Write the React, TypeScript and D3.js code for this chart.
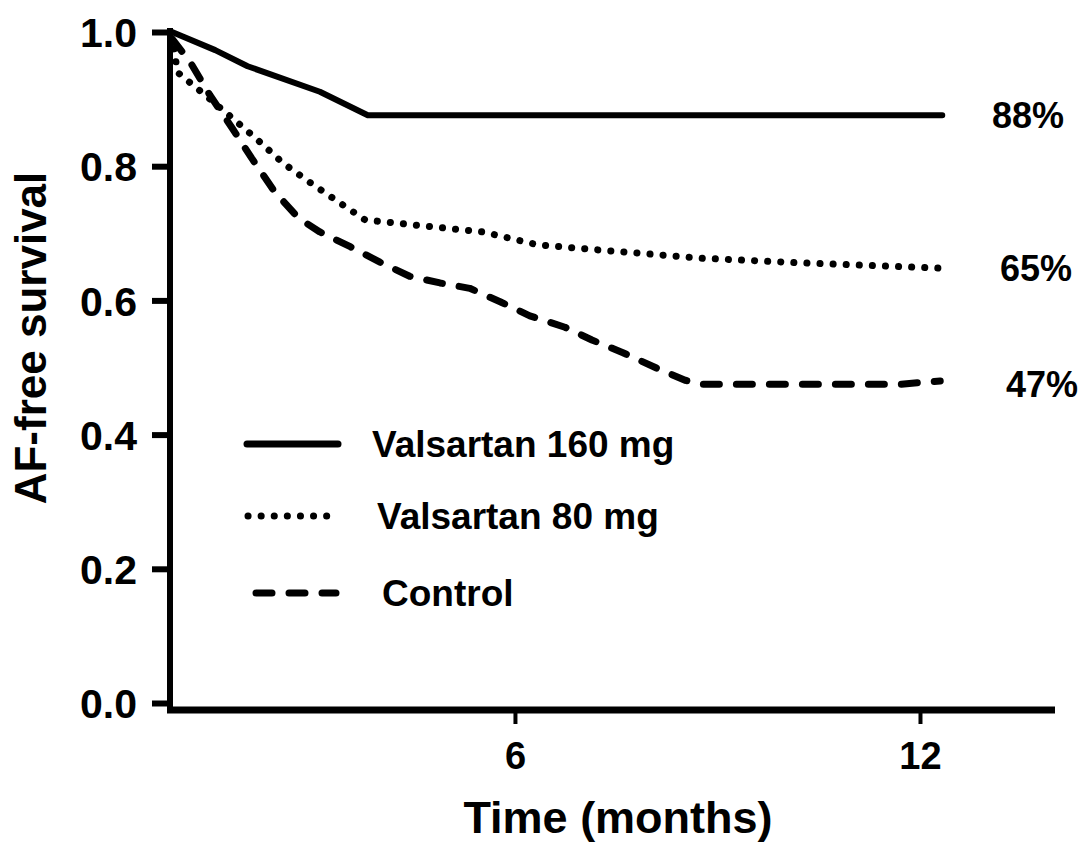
import { useRef, useEffect } from "react";
import * as d3 from "d3";

// Kaplan-Meier style curves: [months, AF-free fraction]
const valsartan160 = [
	[0.92, 1.0],
	[1.56, 0.973],
	[2.04, 0.949],
	[3.11, 0.911],
	[3.82, 0.876],
	[12.33, 0.876],
];

const valsartan80 = [
	[0.95, 0.975],
	[1.0, 0.94],
	[1.41, 0.906],
	[1.81, 0.872],
	[2.19, 0.839],
	[2.56, 0.805],
	[2.96, 0.776],
	[3.41, 0.745],
	[3.78, 0.72],
	[4.55, 0.712],
	[5.53, 0.702],
	[6.33, 0.683],
	[7.26, 0.675],
	[8.74, 0.663],
	[10.22, 0.656],
	[12.33, 0.648],
];

const control = [
	[0.92, 0.99],
	[1.19, 0.955],
	[1.48, 0.906],
	[1.81, 0.857],
	[2.1, 0.812],
	[2.44, 0.762],
	[2.79, 0.723],
	[3.11, 0.702],
	[3.56, 0.68],
	[4.0, 0.657],
	[4.44, 0.636],
	[4.89, 0.626],
	[5.33, 0.618],
	[5.78, 0.598],
	[6.22, 0.577],
	[6.74, 0.56],
	[7.14, 0.541],
	[7.6, 0.522],
	[8.1, 0.499],
	[8.52, 0.481],
	[8.74, 0.475],
	[11.7, 0.475],
	[12.3, 0.48],
];

const endLabels = ["88%", "65%", "47%"];
const endValues = [0.876, 0.648, 0.475];
const legendNames = ["Valsartan 160 mg", "Valsartan 80 mg", "Control"];
const xTicks = [6, 12];
const yTicks = [0, 0.2, 0.4, 0.6, 0.8, 1.0];

const FONT = "'Liberation Sans', Arial, Helvetica, sans-serif";

export default function App() {
	const svgRef = useRef(null);

	useEffect(() => {
		const width = 1087,
			height = 855;

		const svg = d3
			.select(svgRef.current)
			.attr("width", width)
			.attr("height", height)
			.style("font-family", FONT)
			.style("font-weight", "bold");

		const x = d3.scaleLinear().domain([0.89, 14]).range([170, 1055]);
		const y = d3.scaleLinear().domain([0, 1]).range([703, 32]);

		// y axis
		const yAxis = svg
			.append("g")
			.attr("transform", "translate(170,0)")
			.call(
				d3
					.axisLeft(y)
					.tickValues(yTicks)
					.tickSize(18)
					.tickSizeOuter(0)
					.tickPadding(15)
					.tickFormat(d3.format(".1f"))
			);
		yAxis.select(".domain").remove();
		yAxis.selectAll("line").attr("stroke", "#000").attr("stroke-width", 6);
		yAxis
			.selectAll("text")
			.attr("fill", "#000")
			.style("font-size", "41px")
			.style("font-family", FONT)
			.style("font-weight", "bold")
			.attr("dy", "0.36em");

		// x axis
		const xAxis = svg
			.append("g")
			.attr("transform", "translate(0,710)")
			.call(
				d3
					.axisBottom(x)
					.tickValues(xTicks)
					.tickSize(14)
					.tickSizeOuter(0)
					.tickPadding(18)
					.tickFormat(d3.format("d"))
			);
		xAxis.select(".domain").remove();
		xAxis.selectAll("line").attr("stroke", "#000").attr("stroke-width", 4);
		xAxis
			.selectAll("text")
			.attr("fill", "#000")
			.style("font-size", "38px")
			.style("font-family", FONT)
			.style("font-weight", "bold")
			.attr("dy", "0.72em");

		// axis lines
		svg.append("line")
			.attr("x1", 170)
			.attr("x2", 170)
			.attr("y1", y(1) - 4)
			.attr("y2", 713)
			.attr("stroke", "#000")
			.attr("stroke-width", 6);
		svg.append("line")
			.attr("x1", 167)
			.attr("x2", x(14))
			.attr("y1", 710)
			.attr("y2", 710)
			.attr("stroke", "#000")
			.attr("stroke-width", 7);

		const line = d3
			.line()
			.x((d) => x(d[0]))
			.y((d) => y(d[1]));

		const styles = [
			{ dash: null, width: 6 },
			{ dash: "0.1 13", width: 7 },
			{ dash: "16 17", width: 7 },
		];
		const series = [valsartan160, valsartan80, control];

		series.forEach((data, i) => {
			const p = svg
				.append("path")
				.datum(data)
				.attr("d", line)
				.attr("fill", "none")
				.attr("stroke", "#000")
				.attr("stroke-width", styles[i].width)
				.attr("stroke-linecap", "round")
				.attr("stroke-linejoin", "round");
			if (styles[i].dash) p.attr("stroke-dasharray", styles[i].dash);
		});

		// end labels
		const labelX = [992, 1000, 1006];
		endLabels.forEach((t, i) => {
			svg.append("text")
				.attr("x", labelX[i])
				.attr("y", y(endValues[i]))
				.attr("dy", "0.36em")
				.style("font-size", "36px")
				.text(t);
		});

		// legend
		const legendY = [444, 516, 593];
		const legendLine = [
			[247, 338],
			[248, 335],
			[256, 336],
		];
		const legendTextX = [372, 377, 382];
		legendNames.forEach((name, i) => {
			const l = svg
				.append("line")
				.attr("x1", legendLine[i][0])
				.attr("x2", legendLine[i][1])
				.attr("y1", legendY[i])
				.attr("y2", legendY[i])
				.attr("stroke", "#000")
				.attr("stroke-width", 7)
				.attr("stroke-linecap", "round");
			if (styles[i].dash) l.attr("stroke-dasharray", styles[i].dash);
			svg.append("text")
				.attr("x", legendTextX[i])
				.attr("y", legendY[i])
				.attr("dy", "0.36em")
				.style("font-size", "37px")
				.text(name);
		});

		// axis titles
		svg.append("text")
			.attr("x", 618)
			.attr("y", 833)
			.attr("text-anchor", "middle")
			.style("font-size", "45px")
			.text("Time (months)");

		svg.append("text")
			.attr("transform", "rotate(-90)")
			.attr("x", -338)
			.attr("y", 46)
			.attr("text-anchor", "middle")
			.style("font-size", "44px")
			.text("AF-free survival");

		return () => {
			d3.select(svgRef.current).selectAll("*").remove();
		};
	}, []);

	return (
		<div style={{ position: "absolute", left: 0, top: 0 }}>
			<svg ref={svgRef} style={{ display: "block" }}></svg>
		</div>
	);
}
